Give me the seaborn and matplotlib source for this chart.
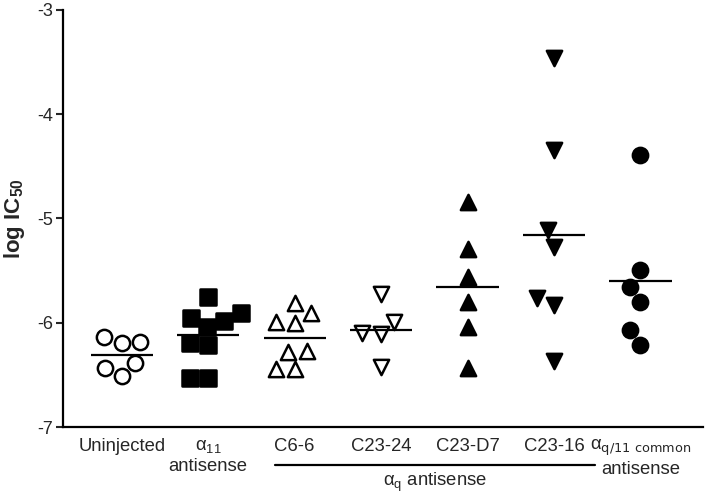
import matplotlib
matplotlib.use('Agg')
import numpy as np
import pandas as pd
import matplotlib.pyplot as plt
import seaborn as sns
from matplotlib.transforms import blended_transform_factory

# Data
categories = ['Uninjected', 'a11', 'C6-6', 'C23-24', 'C23-D7', 'C23-16', 'aq11']
tick_labels = ['Uninjected', 'α$_{11}$\nantisense', 'C6-6', 'C23-24', 'C23-D7', 'C23-16',
               'α$_{\\mathrm{q/11\\ common}}$\nantisense']
uninjected = [-6.14, -6.18, -6.19, -6.39, -6.43, -6.51]
alpha11 = [-5.75, -5.91, -5.95, -5.98, -6.04, -6.19, -6.21, -6.53, -6.53]
c6_6 = [-5.81, -5.91, -5.99, -6.00, -6.27, -6.28, -6.44, -6.44]
c23_24 = [-5.72, -5.99, -6.10, -6.11, -6.42]
c23_d7 = [-4.84, -5.29, -5.56, -5.80, -6.04, -6.43]
c23_16 = [-3.46, -4.34, -5.11, -5.27, -5.76, -5.83, -6.37]
aq11 = [-4.39, -5.49, -5.66, -5.80, -6.07, -6.21]

groups = [uninjected, alpha11, c6_6, c23_24, c23_d7, c23_16, aq11]
df = pd.concat([pd.DataFrame({'group': c, 'value': v}) for c, v in zip(categories, groups)],
               ignore_index=True)

# marker, face colour for each group
styles = [('o', 'white'), ('s', 'black'), ('^', 'white'), ('v', 'white'),
          ('^', 'black'), ('v', 'black'), ('o', 'black')]

sns.set_style('ticks')
plt.rcParams['font.family'] = ['Liberation Sans', 'DejaVu Sans']
plt.rcParams['mathtext.default'] = 'regular'
plt.rcParams['axes.unicode_minus'] = False

fig = plt.figure(figsize=(7.2, 4.94), dpi=100)
ax = fig.add_axes([0.0875, 0.1356, 0.8885, 0.8442])

for cat, (m, fc) in zip(categories, styles):
    sub = df[df['group'] == cat]
    sns.swarmplot(x=sub['group'], y=sub['value'], order=categories, marker=m,
                  size=11, color=fc, edgecolor='black', linewidth=1.8, ax=ax)

# group means
means = df.groupby('group', sort=False)['value'].mean()
pos = np.arange(len(categories))
ax.hlines(means.values, pos - 0.36, pos + 0.36, color='black', lw=1.6, zorder=5)

ax.set_xlim(-0.68, 6.72)
ax.set_ylim(-7, -3)
ax.set_yticks([-7, -6, -5, -4, -3])
ax.set_xticks(pos)
ax.set_xticklabels(tick_labels, fontsize=13.3)
ax.tick_params(axis='x', length=0, pad=8)
ax.tick_params(axis='y', length=5, width=1.5, labelsize=13, pad=2)
ax.set_xlabel('')
ax.set_ylabel('log IC$_{50}$', fontsize=16, fontweight='bold')
ax.yaxis.set_label_coords(-0.057, 0.5)
for s in ['left', 'bottom']:
    ax.spines[s].set_linewidth(1.6)
    ax.spines[s].set_color('black')
sns.despine(ax=ax)

# bracket for the alpha_q antisense clones
tr = blended_transform_factory(ax.transData, ax.transAxes)
ax.plot([1.77, 5.47], [-0.092, -0.092], color='black', lw=1.6, transform=tr, clip_on=False)
ax.text(3.62, -0.134, 'α$_{q}$ antisense', transform=tr, ha='center', va='center', fontsize=13.3)

fig.savefig('out.png', dpi=100)
